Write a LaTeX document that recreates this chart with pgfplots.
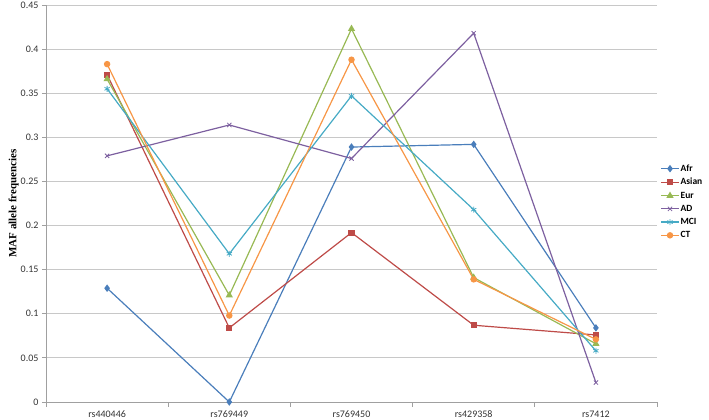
\documentclass[border=0pt]{standalone}
\usepackage{pgfplots}
\pgfplotsset{compat=1.18}
\usepackage{fontspec}
\setmainfont{Carlito}
\newfontfamily\serifbold{Liberation Serif}

\definecolor{cAfr}{HTML}{4A7EBB}
\definecolor{cAsian}{HTML}{BE4B48}
\definecolor{cEur}{HTML}{98B954}
\definecolor{cAD}{HTML}{7D60A0}
\definecolor{cMCI}{HTML}{46AAC5}
\definecolor{cCT}{HTML}{F79646}
\definecolor{gridgray}{HTML}{C8C8C8}
\definecolor{axgray}{HTML}{A0A0A0}

\begin{document}
\begin{tikzpicture}
\path[use as bounding box] (0,0) rectangle (709pt,420pt);
\begin{axis}[
    at={(46pt,18pt)}, anchor=south west,
    width=611pt, height=397pt, scale only axis,
    xmin=0.5, xmax=5.5,
    ymin=0, ymax=0.45,
    xtick={1,2,3,4,5},
    xticklabels={rs440446,rs769449,rs769450,rs429358,rs7412},
    minor xtick={0.5,1.5,2.5,3.5,4.5,5.5},
    ytick={0,0.05,...,0.45},
    axis x line*=bottom, axis y line*=left,
    axis line style={axgray, line width=0.8pt, -},
    major x tick style={draw=none},
    minor x tick style={axgray, line width=0.8pt},
    major y tick style={axgray, line width=0.8pt},
    tick align=outside,
    major tick length=4pt, minor tick length=5pt,
    ymajorgrids, grid style={gridgray, line width=0.8pt},
    tick label style={font=\fontsize{10}{12}\selectfont, text=black!80},
    /pgf/number format/assume math mode=true,
    y tick label style={/pgf/number format/.cd, fixed, precision=2, /tikz/.cd},
    xticklabel style={yshift=-1pt},
    ylabel={\serifbold\bfseries MAF allele frequencies},
    ylabel style={at={(axis description cs:-0.053,0.5)}, anchor=center, font=\fontsize{11}{13}\selectfont},
    legend style={at={(axis description cs:1.006,0.504)}, anchor=west, draw=none, fill=none,
        inner xsep=0pt, font=\fontsize{9.5}{11.5}\selectfont\bfseries, row sep=1.5pt,
        legend cell align=left,
        nodes={inner xsep=1.5pt}},
    legend image code/.code={
        \draw[mark repeat=2, mark phase=2, #1] plot coordinates {(0cm,0cm) (0.3cm,0cm) (0.6cm,0cm)};},
    every axis plot/.append style={line width=1.2pt},
]
\addplot[color=cAfr, mark=diamond*, mark size=2.8pt] coordinates {
    (1,0.129)(2,0.000)(3,0.289)(4,0.292)(5,0.084)};
\addlegendentry{Afr}
\addplot[color=cAsian, mark=square*, mark size=2.5pt] coordinates {
    (1,0.371)(2,0.084)(3,0.192)(4,0.087)(5,0.076)};
\addlegendentry{Asian}
\addplot[color=cEur, mark=triangle*, mark size=3pt] coordinates {
    (1,0.366)(2,0.121)(3,0.423)(4,0.141)(5,0.066)};
\addlegendentry{Eur}
\addplot[color=cAD, mark=x, mark size=3pt, mark options={line width=0.8pt}] coordinates {
    (1,0.279)(2,0.314)(3,0.276)(4,0.418)(5,0.022)};
\addlegendentry{AD}
\addplot[color=cMCI, mark=asterisk, mark size=3pt, mark options={line width=0.8pt}] coordinates {
    (1,0.355)(2,0.168)(3,0.347)(4,0.218)(5,0.058)};
\addlegendentry{MCI}
\addplot[color=cCT, mark=*, mark size=2.6pt] coordinates {
    (1,0.383)(2,0.098)(3,0.388)(4,0.139)(5,0.071)};
\addlegendentry{CT}
\end{axis}
\end{tikzpicture}
\end{document}
